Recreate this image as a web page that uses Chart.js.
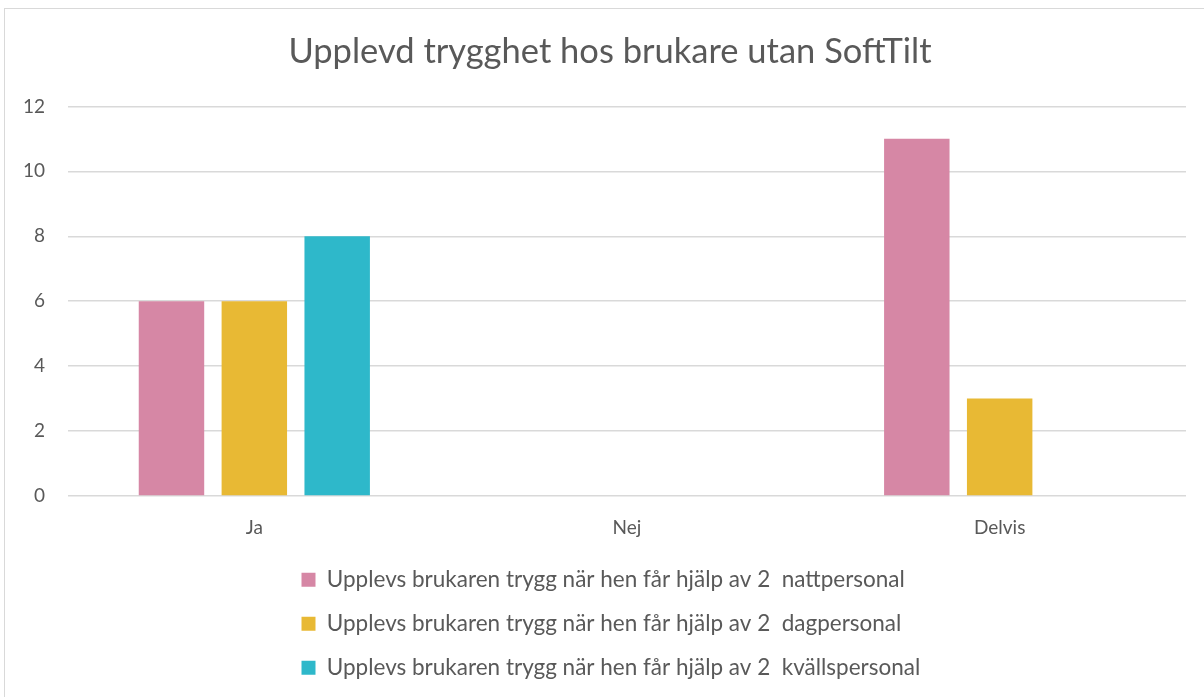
<!DOCTYPE html>
<html>
<head>
<meta charset="utf-8">
<script src="https://cdn.jsdelivr.net/npm/chart.js@4"></script>
<style>
  html, body { margin: 0; padding: 0; background: #fff; overflow: hidden; }
  #wrap { position: relative; width: 1204px; height: 697px; }
  #frame { position: absolute; left: 4px; top: 8px; width: 1300px; height: 800px; border: 1.5px solid #d9d9d9; box-sizing: border-box; pointer-events: none; }
  canvas { position: absolute; left: 0; top: 0; }
</style>
</head>
<body>
<div id="wrap">
  <canvas id="c" width="1204" height="697"></canvas>
  <div id="frame"></div>
</div>
<script>
const titleText = "Upplevd trygghet hos brukare utan SoftTilt";
const categories = ["Ja", "Nej", "Delvis"];
const seriesNames = [
  "Upplevs brukaren trygg när hen får hjälp av 2  nattpersonal",
  "Upplevs brukaren trygg när hen får hjälp av 2  dagpersonal",
  "Upplevs brukaren trygg när hen får hjälp av 2  kvällspersonal"
];
const nattValues = [6, 0, 11];
const dagValues = [6, 0, 3];
const kvallValues = [8, 0, 0];
const yTicks = [0, 2, 4, 6, 8, 10, 12];

const colors = ["#D687A5", "#E8B934", "#2EB8CA"];
const fontFamily = "Lato, 'Open Sans', sans-serif";
const textColor = "#595959";

// shift title and legend horizontally to match the original placement
const nudge = {
  id: "nudge",
  afterLayout(chart) {
    const t = chart.titleBlock;
    if (t) { t.left += 17; t.right += 17; }
    const l = chart.legend;
    if (l) { const w = l.right - l.left; l.left = 280; l.right = l.left + w; }
  }
};

new Chart(document.getElementById("c"), {
  type: "bar",
  data: {
    labels: categories,
    datasets: [
      { label: seriesNames[0], data: nattValues, backgroundColor: colors[0] },
      { label: seriesNames[1], data: dagValues, backgroundColor: colors[1] },
      { label: seriesNames[2], data: kvallValues, backgroundColor: colors[2] }
    ]
  },
  plugins: [nudge],
  options: {
    responsive: false,
    animation: false,
    devicePixelRatio: 1,
    categoryPercentage: 0.667,
    barPercentage: 0.79,
    layout: { padding: { left: 0, right: 18, top: 0, bottom: 8 } },
    plugins: {
      tooltip: { enabled: false },
      title: {
        display: true,
        text: titleText,
        color: textColor,
        font: { family: fontFamily, size: 34.5, weight: "normal" },
        padding: { top: 31, bottom: 34 }
      },
      legend: {
        position: "bottom",
        align: "start",
        labels: {
          color: textColor,
          font: { family: fontFamily, size: 22.5 },
          boxWidth: 14,
          boxHeight: 14,
          padding: 21.5
        }
      }
    },
    scales: {
      x: {
        grid: { display: false, drawTicks: false },
        border: { display: false },
        ticks: { color: textColor, font: { family: fontFamily, size: 19 }, padding: 20 },
        afterFit: (s) => { s.height = 51; }
      },
      y: {
        min: 0,
        max: 12,
        afterBuildTicks: (scale) => { scale.ticks = yTicks.map(v => ({ value: v })); },
        grid: { color: "#d9d9d9", lineWidth: 1.5, drawTicks: false },
        border: { display: false },
        ticks: { color: textColor, font: { family: fontFamily, size: 19 }, padding: 23 },
        afterFit: (s) => { s.width = 68; }
      }
    }
  }
});
</script>
</body>
</html>
